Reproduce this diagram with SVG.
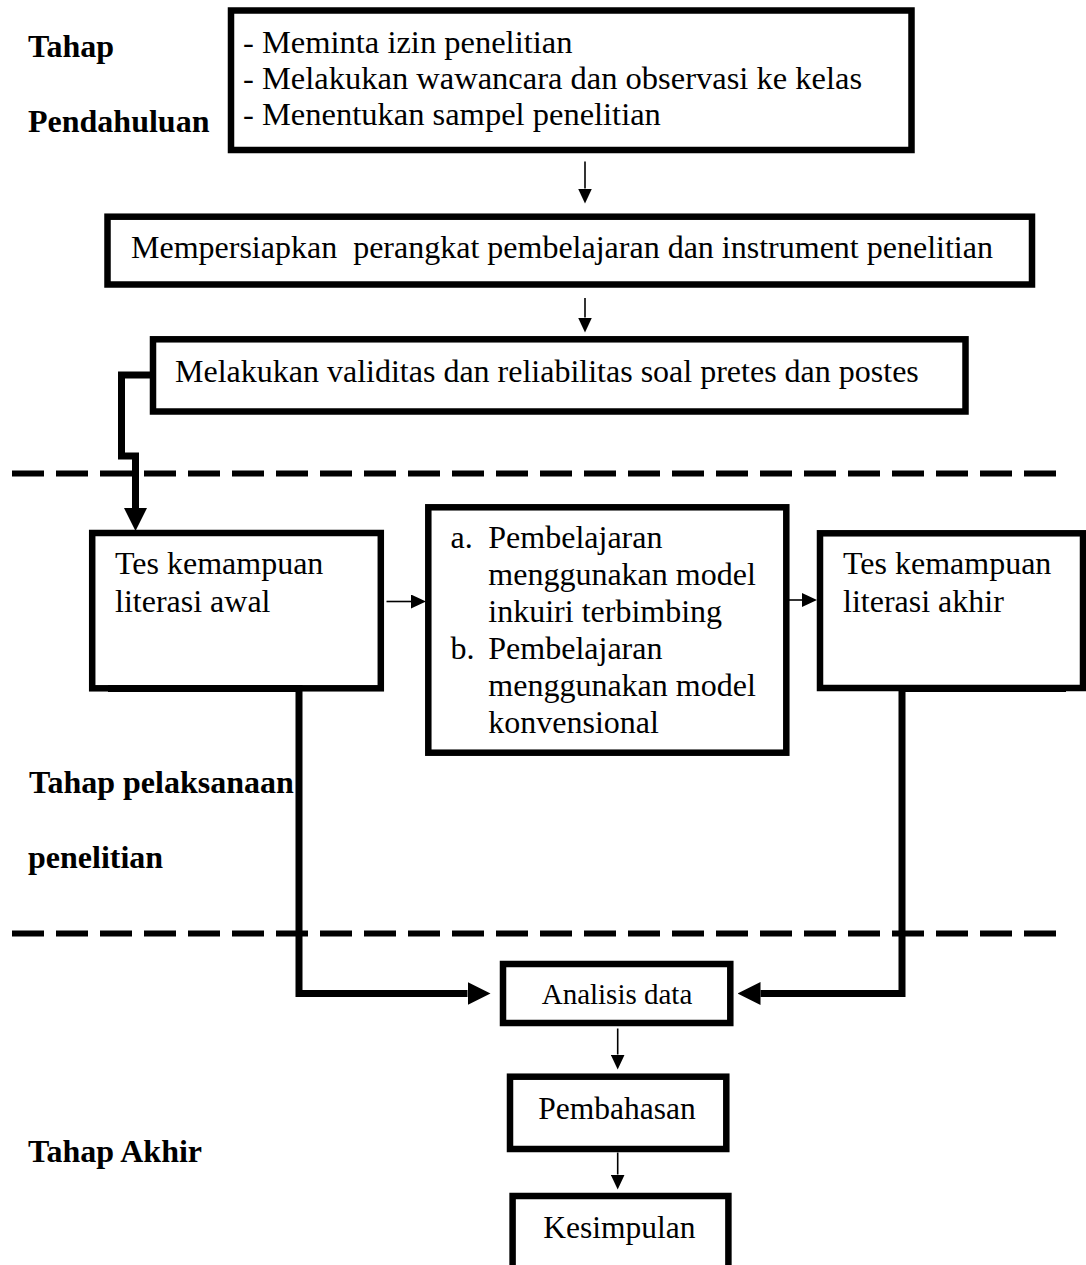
<svg xmlns="http://www.w3.org/2000/svg" width="1086" height="1265" viewBox="0 0 1086 1265">
<style>
.box{fill:#fff;stroke:#000;stroke-width:6.5}
.t{font-family:"Liberation Serif","Times New Roman",serif;font-size:32px;fill:#000;white-space:pre}
.b{font-family:"Liberation Serif","Times New Roman",serif;font-size:32px;font-weight:bold;fill:#000}
.thin{fill:none;stroke:#000;stroke-width:1.6}
.thick{fill:none;stroke:#000;stroke-width:7;stroke-linejoin:miter}
.dash{fill:none;stroke:#000;stroke-width:6;stroke-dasharray:32 12}
</style>
<defs>
<marker id="ah" markerUnits="userSpaceOnUse" markerWidth="15" markerHeight="14" viewBox="0 -7 15 14" refX="0" refY="0" orient="auto">
<path d="M0,-7 L15,0 L0,7 z" fill="#000"/>
</marker>
<marker id="ahb" markerUnits="userSpaceOnUse" markerWidth="23" markerHeight="23" viewBox="0 -11.5 23 23" refX="0" refY="0" orient="auto">
<path d="M0,-11.5 L23,0 L0,11.5 z" fill="#000"/>
</marker>
</defs>

<g id="labels">
<text class="b" x="28" y="57">Tahap</text>
<text class="b" x="28" y="132">Pendahuluan</text>
<text class="b" x="29" y="793">Tahap pelaksanaan</text>
<text class="b" x="28" y="868">penelitian</text>
<text class="b" x="28" y="1162">Tahap Akhir</text>
</g>

<g id="dividers">
<line class="dash" x1="12" y1="473.5" x2="1057" y2="473.5"/>
<line class="dash" x1="12" y1="933.5" x2="1057" y2="933.5"/>
</g>

<g id="node-pendahuluan">
<rect class="box" x="231" y="10.5" width="680.5" height="139.5"/>
<text class="t" x="243" y="53" style="font-size:32.5px">- Meminta izin penelitian</text>
<text class="t" x="243" y="89" style="font-size:32.5px">- Melakukan wawancara dan observasi ke kelas</text>
<text class="t" x="243" y="125" style="font-size:32.5px">- Menentukan sampel penelitian</text>
</g>

<g id="node-persiapan">
<rect class="box" x="107.5" y="216.7" width="924.5" height="67.8"/>
<text class="t" x="131" y="258">Mempersiapkan  perangkat pembelajaran dan instrument penelitian</text>
</g>

<g id="node-validitas">
<rect class="box" x="153" y="339.3" width="812.5" height="72.2"/>
<text class="t" x="175" y="382">Melakukan validitas dan reliabilitas soal pretes dan postes</text>
</g>

<g id="node-tes-awal">
<rect class="box" x="92.2" y="533" width="288.6" height="155.3"/>
<text class="t" x="115" y="574">Tes kemampuan</text>
<text class="t" x="115" y="611.5">literasi awal</text>
</g>

<g id="node-pembelajaran">
<rect class="box" x="428.3" y="507.3" width="358" height="245.4"/>
<text class="t" x="450.5" y="548">a.</text>
<text class="t" x="488.3" y="548">Pembelajaran</text>
<text class="t" x="488.3" y="585">menggunakan model</text>
<text class="t" x="488.3" y="622">inkuiri terbimbing</text>
<text class="t" x="450.5" y="659">b.</text>
<text class="t" x="488.3" y="659">Pembelajaran</text>
<text class="t" x="488.3" y="696">menggunakan model</text>
<text class="t" x="488.3" y="733">konvensional</text>
</g>

<g id="node-tes-akhir">
<rect class="box" x="820" y="533.3" width="263" height="154.7"/>
<text class="t" x="843" y="574">Tes kemampuan</text>
<text class="t" x="843" y="611.5">literasi akhir</text>
</g>

<g id="node-analisis">
<rect class="box" x="503" y="964" width="227.3" height="59"/>
<text class="t" x="541.7" y="1004" style="font-size:29px">Analisis data</text>
</g>

<g id="node-pembahasan">
<rect class="box" x="510" y="1076.7" width="216.3" height="72.3"/>
<text class="t" x="538.3" y="1119" style="font-size:31.5px">Pembahasan</text>
</g>

<g id="node-kesimpulan">
<rect class="box" x="512.6" y="1196" width="215.8" height="80"/>
<text class="t" x="543.3" y="1238" style="font-size:31.5px">Kesimpulan</text>
</g>

<g id="connectors">
<line class="thin" x1="585" y1="161.5" x2="585" y2="188.5" marker-end="url(#ah)"/>
<line class="thin" x1="585" y1="298" x2="585" y2="317.5" marker-end="url(#ah)"/>
<path class="thick" d="M150,375 H121.5 V456 H135.5 V508" marker-end="url(#ahb)"/>
<line class="thin" x1="386.5" y1="601.5" x2="411" y2="601.5" marker-end="url(#ah)"/>
<line class="thin" x1="789" y1="600" x2="802" y2="600" marker-end="url(#ah)"/>
<path class="thick" d="M108,688.5 H299 V993.5 H467.5" marker-end="url(#ahb)"/>
<path class="thick" d="M1066,688.5 H902 V993.5 H760.5" marker-end="url(#ahb)"/>
<line class="thin" x1="617.7" y1="1028.5" x2="617.7" y2="1054.5" marker-end="url(#ah)"/>
<line class="thin" x1="617.7" y1="1152.5" x2="617.7" y2="1174.5" marker-end="url(#ah)"/>
</g>
</svg>
